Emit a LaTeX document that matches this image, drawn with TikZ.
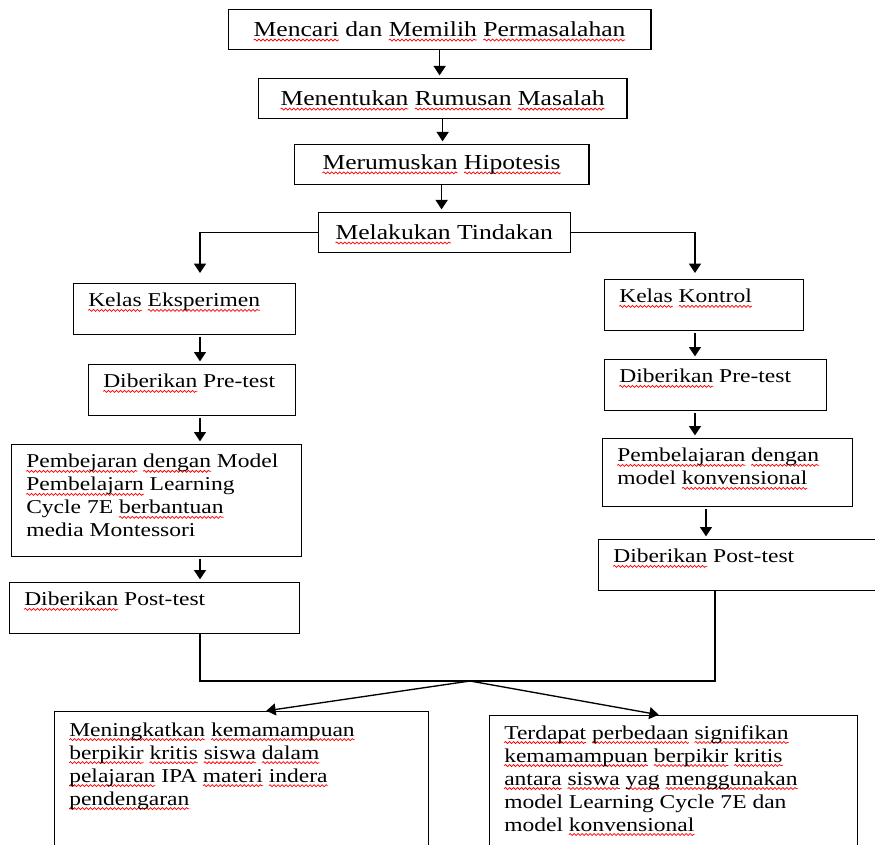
\documentclass[tikz,border=0pt]{standalone}
\usepackage{fontspec}
\setmainfont{Liberation Serif}[FakeStretch=1.2]
\usetikzlibrary{arrows.meta,decorations.pathmorphing}

%red wavy underline of the spell checker
\newsavebox{\sqbox}
\newcommand{\sq}[1]{\sbox{\sqbox}{#1}\leavevmode\rlap{\tikz[overlay]\draw[red, line width=0.55pt, decorate, decoration={snake, amplitude=0.75pt, segment length=3pt}] (0pt,-2.6pt) -- (\wd\sqbox,-2.6pt);}\usebox{\sqbox}}
%text of a box: width and height in px, text top left
\newcommand{\isi}[3]{\parbox[t][\dimexpr0.75pt*#2-15pt\relax][t]{\dimexpr0.75pt*#1\relax}{\raggedright\leftskip=11.25pt #3}}

\tikzset{every picture/.style={line width=1pt}}

\begin{document}
\begin{tikzpicture}[x=0.75pt,y=0.75pt,yscale=-1,xscale=1,
	topbox/.style={draw, anchor=north west, inner sep=0pt, minimum height=30pt, font=\fontsize{16}{19}\selectfont},
	box/.style={draw, anchor=north west, inner xsep=0pt, inner ysep=7.5pt, font=\fontsize{14.7}{17.25}\selectfont},
	arr/.style={-{Triangle[length=7pt,width=9pt]}, shorten <=1.5pt, shorten >=2pt}]
				\useasboundingbox (0,0) rectangle (875,845);
				\clip (0,0) rectangle (875,845);
				
				%Shape: Rectangle [top]
				\draw (228,9) node [topbox, minimum width=317pt] (mencari) {\sq{Mencari} dan \sq{Memilih} \sq{Permasalahan}};
				%Shape: Rectangle
				\draw (258,78) node [topbox, minimum width=276.5pt] (rumusan) {\sq{Menentukan} \sq{Rumusan} \sq{Masalah}};
				%Shape: Rectangle
				\draw (294,144) node [topbox, minimum width=221pt] (hipotesis) {\sq{Merumuskan} \sq{Hipotesis}};
				%Shape: Rectangle
				\draw (318,212) node [topbox, minimum width=189pt] (tindakan) {\sq{Melakukan} Tindakan};
				
				%Shape: Rectangle [left column]
				\draw (73,283) node [box] (kelasE) {\isi{222}{51}{\sq{Kelas} \sq{Eksperimen}}};
				%Shape: Rectangle
				\draw (88,364) node [box] (preE) {\isi{207}{51}{\sq{Diberikan} Pre-test}};
				%Shape: Rectangle
				\draw (11,444) node [box] (pembE) {\isi{290}{112}{\sq{Pembejaran} \sq{dengan} Model\\ \sq{Pembelajarn} Learning\\ Cycle 7E \sq{berbantuan}\\ media Montessori}};
				%Shape: Rectangle
				\draw (9,582) node [box] (postE) {\isi{290}{51}{\sq{Diberikan} Post-test}};
				
				%Shape: Rectangle [right column]
				\draw (604,279) node [box] (kelasK) {\isi{199}{51}{\sq{Kelas} \sq{Kontrol}}};
				%Shape: Rectangle
				\draw (604,359) node [box] (preK) {\isi{222}{51}{\sq{Diberikan} Pre-test}};
				%Shape: Rectangle
				\draw (602,438) node [box] (pembK) {\isi{250}{68}{\sq{Pembelajaran} \sq{dengan}\\ model \sq{konvensional}}};
				%Shape: Rectangle
				\draw (598,539) node [box] (postK) {\isi{300}{51}{\sq{Diberikan} Post-test}};
				
				%Shape: Rectangle [results]
				\draw (54,711) node [box, inner ysep=8.5pt] (hasil1) {\isi{374}{200}{\sq{Meningkatkan} \sq{kemamampuan}\\ \sq{berpikir} \sq{kritis} \sq{siswa} \sq{dalam}\\ \sq{pelajaran} IPA \sq{materi} \sq{indera}\\ \sq{pendengaran}}};
				%Shape: Rectangle
				\draw (489,715) node [box] (hasil2) {\isi{368}{200}{\sq{Terdapat} \sq{perbedaan} \sq{signifikan}\\ \sq{kemamampuan} \sq{berpikir} \sq{kritis}\\ \sq{antara} \sq{siswa} \sq{yag} \sq{menggunakan}\\ model Learning Cycle 7E dan\\ model \sq{konvensional}}};
				
				\coordinate (kolKiri) at (200,0);
				\coordinate (kolKanan) at (695,0);
				\coordinate (kolKanan2) at (706,0);
				\coordinate (kolKanan3) at (715,0);
				\coordinate (temu) at (470,681);
				\coordinate (panahKiri) at (265,0);
				\coordinate (panahKanan) at (660,0);
				
				%Straight Lines
				\draw [arr, shorten <=0pt] (mencari.south) -- (mencari.south |- rumusan.north);
				\draw [arr, shorten <=0pt] (rumusan.south) -- (rumusan.south |- hipotesis.north);
				\draw [arr, shorten <=0pt] (hipotesis.south) -- (hipotesis.south |- tindakan.north);
				%Straight Lines
				\draw [arr, shorten <=0pt, shorten >=7.5pt] (tindakan.west) -| (kelasE.north -| kolKiri);
				\draw [arr, shorten <=0pt, shorten >=4.5pt] (tindakan.east) -| (kelasK.north -| kolKanan);
				%Straight Lines
				\draw [arr] (kelasE.south -| kolKiri) -- (preE.north -| kolKiri);
				\draw [arr] (preE.south -| kolKiri) -- (pembE.north -| kolKiri);
				\draw [arr] (pembE.south -| kolKiri) -- (postE.north -| kolKiri);
				%Straight Lines
				\draw [arr] (kelasK.south -| kolKanan) -- (preK.north -| kolKanan);
				\draw [arr] (preK.south -| kolKanan) -- (pembK.north -| kolKanan);
				\draw [arr] (pembK.south -| kolKanan2) -- (postK.north -| kolKanan2);
				%Straight Lines
				\draw (postE.south -| kolKiri) |- (temu) -| (postK.south -| kolKanan3);
				\draw [arr, shorten <=0pt, shorten >=1pt] (temu) -- (hasil1.north -| panahKiri);
				\draw [arr, shorten <=0pt, shorten >=1pt] (temu) -- (hasil2.north -| panahKanan);
\end{tikzpicture}
\end{document}
